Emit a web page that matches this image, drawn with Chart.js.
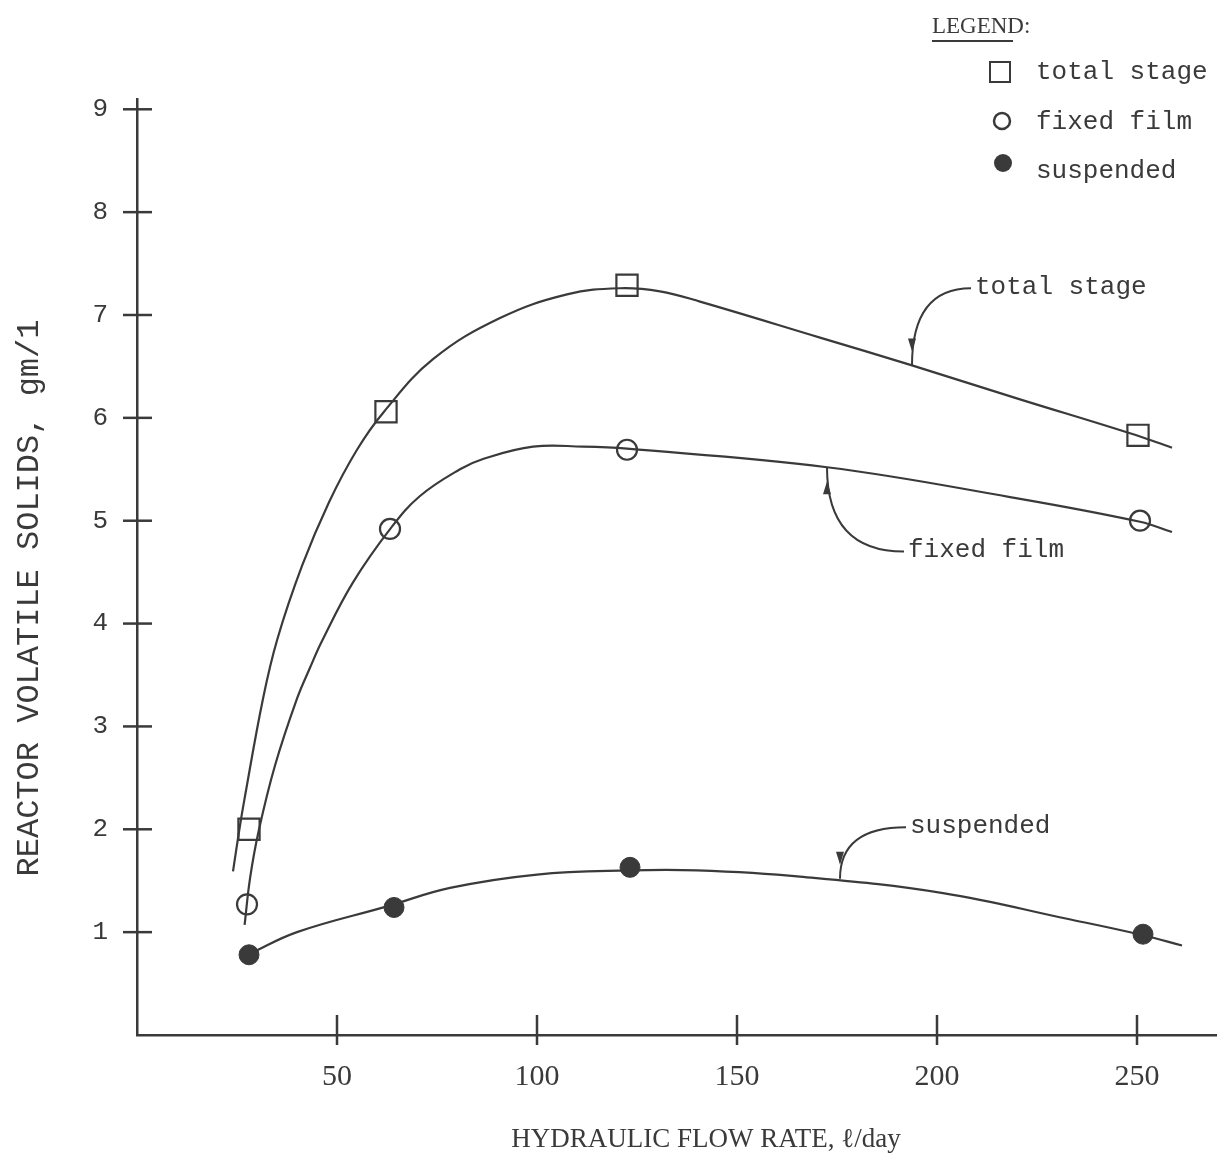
<!DOCTYPE html>
<html>
<head>
<meta charset="utf-8">
<script src="https://cdn.jsdelivr.net/npm/chart.js@4.4.0/dist/chart.umd.min.js"></script>
<style>
html, body { margin: 0; padding: 0; background: #fff; }
#wrap { width: 1217px; height: 1160px; position: relative; }
</style>
</head>
<body>
<div id="wrap"><canvas id="chart"></canvas></div>
<script>
// Measured points (flow rate l/day, volatile solids gm/l)
const totalX = [28, 62.25, 122.5, 250.25];
const totalY = [2.0, 6.06, 7.29, 5.83];
const fixedX = [27.5, 63.25, 122.5, 250.75];
const fixedY = [1.27, 4.92, 5.69, 5.0];
const suspX = [28, 64.25, 123.25, 251.5];
const suspY = [0.78, 1.24, 1.63, 0.98];

// Hand fitted curves
const totalCurveX = [24, 25.6, 26.9, 31.5, 35.1, 41.25, 48, 55, 61.75, 74, 90.75, 107.5, 120.75, 130.75, 140.75, 170.75, 193.75, 220.75, 248.25, 258.75];
const totalCurveY = [1.59, 2.0, 2.3, 3.27, 3.85, 4.56, 5.18, 5.69, 6.06, 6.57, 6.97, 7.2, 7.26, 7.23, 7.13, 6.78, 6.51, 6.18, 5.85, 5.71];
const fixedCurveX = [26.9, 28.25, 30.4, 34.5, 40, 43.25, 46.25, 54, 63.5, 70.75, 80.75, 86.5, 99, 111.5, 122.5, 172.5, 218.25, 250.75, 258.75];
const fixedCurveY = [1.07, 1.52, 1.98, 2.62, 3.27, 3.57, 3.83, 4.40, 4.93, 5.24, 5.5, 5.6, 5.72, 5.72, 5.7, 5.52, 5.23, 4.99, 4.89];
const suspCurveX = [28.25, 40, 62.5, 78.25, 100, 123, 140, 165.75, 201.5, 232.5, 251.5, 261.25];
const suspCurveY = [0.79, 1.0, 1.25, 1.43, 1.56, 1.6, 1.6, 1.54, 1.38, 1.13, 0.97, 0.87];

const xTicks = [50, 100, 150, 200, 250];
const yTicks = [1, 2, 3, 4, 5, 6, 7, 8, 9];
const seriesNames = ['total stage', 'fixed film', 'suspended'];

// Callouts: where the arrow touches the curve, and where the text sits (data units)
const callouts = [
    { text: 'total stage', at: [193.75, 6.51], label: [209.5, 7.27], dir: 1 },
    { text: 'fixed film', at: [172.5, 5.52], label: [192.75, 4.71], dir: -1 },
    { text: 'suspended', at: [175.75, 1.52], label: [193.25, 2.03], dir: 1 }
];

const ink = '#3a3a3a';
const mono = "'Liberation Mono', 'DejaVu Sans Mono', monospace";
const serif = "'Liberation Serif', 'DejaVu Serif', serif";

const pts = (xs, ys) => xs.map((x, i) => ({ x: x, y: ys[i] }));

const curve = (xs, ys) => ({
    data: pts(xs, ys),
    showLine: true,
    pointRadius: 0,
    borderColor: ink,
    borderWidth: 2.2,
    tension: 0.4
});

const line = (ctx, x1, y1, x2, y2) => {
    ctx.beginPath();
    ctx.moveTo(x1, y1);
    ctx.lineTo(x2, y2);
    ctx.stroke();
};

// Extra drawing: crossing ticks, titles, callouts, legend box
const decor = {
    id: 'decor',
    afterDraw(chart) {
        const ctx = chart.ctx;
        const xs = chart.scales.x;
        const ys = chart.scales.y;
        const area = chart.chartArea;
        ctx.save();
        ctx.strokeStyle = ink;
        ctx.fillStyle = ink;

        // tick marks across the axes
        ctx.lineWidth = 2.5;
        yTicks.forEach(v => {
            const p = ys.getPixelForValue(v);
            line(ctx, area.left - 14, p, area.left + 15, p);
        });
        xTicks.forEach(v => {
            const p = xs.getPixelForValue(v);
            line(ctx, p, area.bottom - 20, p, area.bottom + 10);
        });

        // axis titles
        ctx.textBaseline = 'middle';
        ctx.textAlign = 'center';
        ctx.font = '27px ' + serif;
        ctx.fillText('HYDRAULIC FLOW RATE, \u2113/day', 706, 1140);
        ctx.save();
        ctx.translate(30, 598);
        ctx.rotate(-Math.PI / 2);
        ctx.font = '32px ' + mono;
        ctx.fillText('REACTOR VOLATILE SOLIDS, gm/1', 0, 0);
        ctx.restore();

        // callouts with curved leaders
        ctx.textAlign = 'left';
        ctx.font = '26px ' + mono;
        ctx.lineWidth = 2;
        callouts.forEach(c => {
            const ax = xs.getPixelForValue(c.at[0]);
            const ay = ys.getPixelForValue(c.at[1]);
            const lx = xs.getPixelForValue(c.label[0]);
            const ly = ys.getPixelForValue(c.label[1]);
            ctx.fillText(c.text, lx, ly);
            ctx.beginPath();
            ctx.moveTo(lx - 4, ly + 1);
            ctx.quadraticCurveTo(ax, ly + 1, ax, ay);
            ctx.stroke();
            const tip = ay - c.dir * 14;
            ctx.beginPath();
            ctx.moveTo(ax, tip);
            ctx.lineTo(ax - 4, tip - c.dir * 13);
            ctx.lineTo(ax + 4, tip - c.dir * 13);
            ctx.closePath();
            ctx.fill();
        });

        // legend
        ctx.font = '23px ' + serif;
        ctx.fillText('LEGEND:', 932, 27);
        ctx.lineWidth = 2;
        line(ctx, 932, 41, 1013, 41);
        ctx.font = '26px ' + mono;
        ctx.strokeRect(990, 62, 20, 20);
        ctx.beginPath();
        ctx.arc(1002, 121, 8, 0, Math.PI * 2);
        ctx.lineWidth = 2.5;
        ctx.stroke();
        ctx.beginPath();
        ctx.arc(1003, 163, 9, 0, Math.PI * 2);
        ctx.fill();
        ctx.fillText(seriesNames[0], 1036, 72);
        ctx.fillText(seriesNames[1], 1036, 122);
        ctx.fillText(seriesNames[2], 1036, 171);

        ctx.restore();
    }
};

new Chart(document.getElementById('chart'), {
    type: 'scatter',
    data: {
        datasets: [
            curve(totalCurveX, totalCurveY),
            curve(fixedCurveX, fixedCurveY),
            curve(suspCurveX, suspCurveY),
            {
                label: seriesNames[0],
                data: pts(totalX, totalY),
                pointStyle: 'rect',
                pointRadius: 15,
                pointBorderWidth: 2.2,
                borderColor: ink,
                backgroundColor: 'rgba(0,0,0,0)'
            },
            {
                label: seriesNames[1],
                data: pts(fixedX, fixedY),
                pointStyle: 'circle',
                pointRadius: 10,
                pointBorderWidth: 2.2,
                borderColor: ink,
                backgroundColor: 'rgba(0,0,0,0)'
            },
            {
                label: seriesNames[2],
                data: pts(suspX, suspY),
                pointStyle: 'circle',
                pointRadius: 10,
                pointBorderWidth: 1,
                borderColor: ink,
                backgroundColor: ink
            }
        ]
    },
    options: {
        responsive: true,
        maintainAspectRatio: false,
        animation: false,
        layout: { autoPadding: false, padding: { top: 99, right: 0, bottom: 0, left: 0 } },
        plugins: {
            legend: { display: false },
            tooltip: { enabled: false }
        },
        scales: {
            x: {
                type: 'linear',
                min: 0,
                max: 270,
                afterBuildTicks: s => { s.ticks = xTicks.map(v => ({ value: v })); },
                afterFit: s => { s.height = 125; },
                grid: { display: false, drawTicks: false },
                border: { color: ink, width: 2.5 },
                ticks: { color: ink, padding: 24, font: { family: serif, size: 30 } }
            },
            y: {
                type: 'linear',
                min: 0,
                max: 9.1,
                afterBuildTicks: s => { s.ticks = yTicks.map(v => ({ value: v })); },
                afterFit: s => { s.width = 137; },
                grid: { display: false, drawTicks: false },
                border: { color: ink, width: 2.5 },
                ticks: { color: ink, padding: 29, font: { family: mono, size: 26 } }
            }
        }
    },
    plugins: [decor]
});
</script>
</body>
</html>
